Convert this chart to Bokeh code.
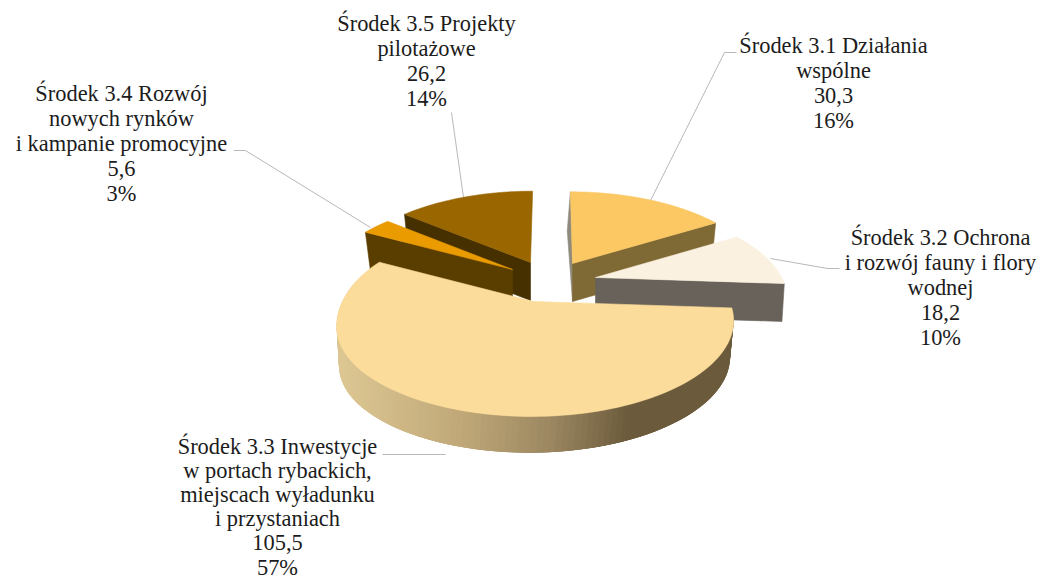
import numpy as np
from bokeh.plotting import figure
from bokeh.models import Range1d
from bokeh.core.properties import value
from bokeh.embed import file_html
from bokeh.resources import INLINE

# ---- data ----
values = [30.3, 18.2, 105.5, 5.6, 26.2]
label_lines = [
    ["Środek 3.1 Działania", "wspólne"],
    ["Środek 3.2 Ochrona", "i rozwój fauny i flory", "wodnej"],
    ["Środek 3.3 Inwestycje", "w portach rybackich,", "miejscach wyładunku", "i przystaniach"],
    ["Środek 3.4 Rozwój", "nowych rynków", "i kampanie promocyjne"],
    ["Środek 3.5 Projekty", "pilotażowe"],
]

# ---- style / layout ----
top_colors = ["#fbc863", "#fbf1e0", "#fcdc9a", "#e99b00", "#996600"]
wall_colors = ["#7f6934", "#68625a", None, "#5a3e00", "#463000"]
apex = [(572, 263), (595, 277), (533, 301), (512, 269), (530, 262)]
scale = [0.955, 0.95, 1.0, 0.95, 0.95]
label_pos = [(833, 45), (940, 237), (277, 446), (121, 93), (426, 23)]
line_heights = [25.0, 25.0, 24.1, 25.0, 25.0]
leaders = [
    ([650, 724, 736], [200, 52, 52]),
    ([770, 827, 839], [258, 268, 268]),
    ([382, 445], [454, 454]),
    ([233, 245, 370], [150, 150, 227]),
    ([451, 463], [112, 197]),
]
R, S, K = 196.0, 90.8, 0.21
DEPTH = 38.0
grad_x = [340, 450, 540, 620, 735]
grad_rgb = [(220, 198, 146), (192, 168, 120), (155, 135, 97), (107, 91, 60), (107, 91, 60)]

total = sum(values)
edges = np.concatenate([[0], np.cumsum(values)]) / total * 2 * np.pi


def pts(i, theta, bottom=False):
    theta = np.atleast_1d(theta)
    u, v = np.sin(theta), np.cos(theta)
    d = 1 + K * v
    X = scale[i] * R * u / d
    Y = -scale[i] * S * v / d
    if i == 2:
        X = X + 5 * np.where(u < 0, u, 0) ** 8
    ax, ay = apex[i]
    shear = (551 - ax) * 0.1
    if bottom:
        return ax + X * 0.985 + 2.5 * shear * v, ay + Y * 0.985 + DEPTH
    return ax + X + shear * v, ay + Y


p = figure(width=1037, height=580, output_backend="svg", toolbar_location=None,
           x_range=Range1d(0, 1037), y_range=Range1d(580, 0), min_border=0)
p.axis.visible = False
p.grid.visible = False
p.outline_line_color = None
p.background_fill_color = "white"

for xs, ys in leaders:
    p.line(xs, ys, line_color="#a6a6a6", line_width=0.8)


def poly(xs, ys, color):
    p.patch(list(xs), list(ys), fill_color=color, line_color=color, line_width=0.6)


def radial_wall(i, theta, color):
    tx, ty = pts(i, theta)
    bx, by = pts(i, theta, True)
    ax, ay = apex[i]
    poly([tx[0], ax, ax, bx[0]], [ty[0], ay, ay + DEPTH, by[0]], color)


def top_face(i):
    th = np.linspace(edges[i], edges[i + 1], 120)
    x, y = pts(i, th)
    ax, ay = apex[i]
    poly(np.r_[ax, x], np.r_[ay, y], top_colors[i])


# slice 3.5
radial_wall(4, edges[4], wall_colors[4])
top_face(4)
# slice 3.4
radial_wall(3, edges[3], wall_colors[3])
top_face(3)
# slice 3.1 (its start wall is the thin sliver on the left)
radial_wall(0, edges[0], "#8f8a7c")
radial_wall(0, edges[1], wall_colors[0])
top_face(0)
# slice 3.2
radial_wall(1, edges[2], wall_colors[1])
top_face(1)
# slice 3.3: gradient outer wall, each strip overlapped by the next one
th = np.linspace(edges[2], min(edges[3], np.radians(285)), 130)
tx, ty = pts(2, th)
bx, by = pts(2, th, True)
for j in range(len(th) - 1):
    xm = (tx[j] + tx[j + 1]) / 2
    rgb = [int(np.interp(xm, grad_x, [c[k] for c in grad_rgb])) for k in range(3)]
    col = "#%02x%02x%02x" % tuple(rgb)
    e = max(j - 2, 0)
    p.patch([tx[e], tx[j + 1], bx[j + 1], bx[e]], [ty[e], ty[j + 1], by[j + 1], by[e]],
            fill_color=col, line_color=None)
top_face(2)

# labels
tx_, ty_, tt_ = [], [], []
for i, lines in enumerate(label_lines):
    rows = lines + [f"{values[i]:.1f}".replace(".", ","), f"{round(values[i] / total * 100)}%"]
    cx, cy = label_pos[i]
    for r, s in enumerate(rows):
        tx_.append(cx)
        ty_.append(cy + r * line_heights[i])
        tt_.append(s)
p.text(tx_, ty_, text=tt_, text_font=value("Liberation Serif"), text_font_size="22.4px",
       text_color="#1c1c1c", text_align="center", text_baseline="middle")

open("out.html", "w").write(file_html(p, INLINE))
